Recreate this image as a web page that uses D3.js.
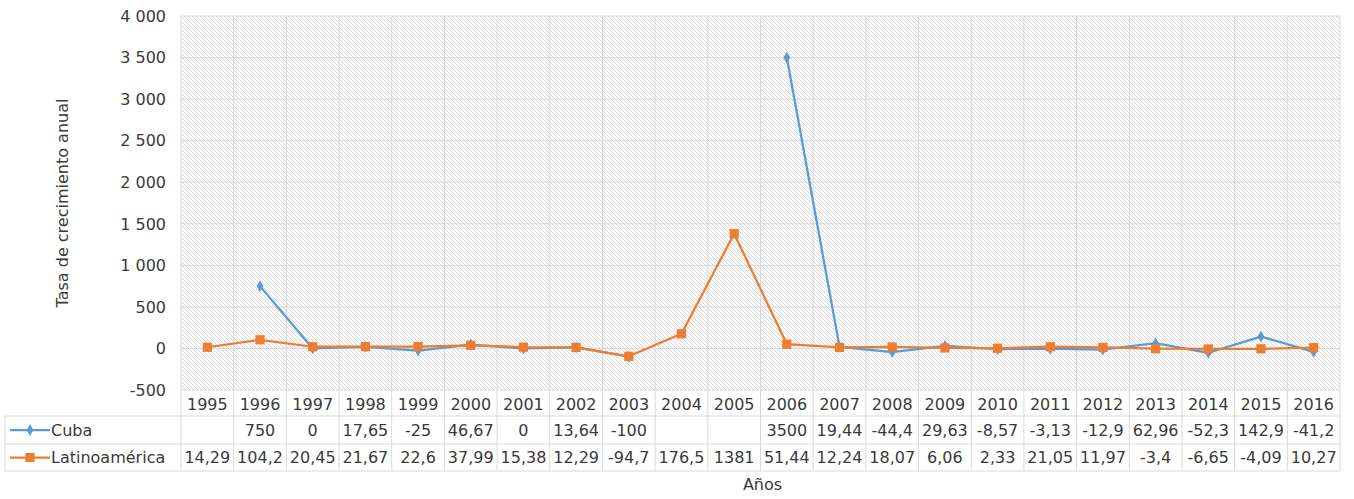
<!DOCTYPE html>
<html>
<head>
<meta charset="utf-8">
<script src="https://cdn.jsdelivr.net/npm/d3@7"></script>
<style>
  body { margin: 0; background: #fff; }
  text { font-family: "DejaVu Sans", Verdana, sans-serif; fill: #3a3a3a; }
</style>
</head>
<body>
<div id="main"></div>
<script>
const years = ["1995","1996","1997","1998","1999","2000","2001","2002","2003","2004","2005",
  "2006","2007","2008","2009","2010","2011","2012","2013","2014","2015","2016"];
const cuba = [null, 750, 0, 17.65, -25, 46.67, 0, 13.64, -100, null, null,
  3500, 19.44, -44.4, 29.63, -8.57, -3.13, -12.9, 62.96, -52.3, 142.9, -41.2];
const latino = [14.29, 104.2, 20.45, 21.67, 22.6, 37.99, 15.38, 12.29, -94.7, 176.5, 1381,
  51.44, 12.24, 18.07, 6.06, 2.33, 21.05, 11.97, -3.4, -6.65, -4.09, 10.27];
const yTicks = [-500, 0, 500, 1000, 1500, 2000, 2500, 3000, 3500, 4000];

const ctx = {
  width: 1354,
  height: 499,
  left: 181,
  right: 1340,
  top: 16,
  bottom: 390,
  gridColor: "#d9d9d9",
  blue: "#5b9bd5",
  orange: "#ed7d31",
  fontSize: 16
};

const series = [
  {name: "Cuba", values: cuba, color: ctx.blue, marker: "diamond"},
  {name: "Latinoamérica", values: latino, color: ctx.orange, marker: "square"}
];

function fmt(v){
  if (v === null) return "";
  return String(v).replace(".", ",");
}
function fmtTick(v){
  // plain hyphen for negatives, space as thousands separator
  return d3.format(",")(v).replace(/,/g, " ").replace("\u2212", "-");
}

function createViz(){
  let svg = d3.select("#main").append("svg")
    .attr("width", ctx.width)
    .attr("height", ctx.height);

  let defs = svg.append("defs");
  let pat = defs.append("pattern")
    .attr("id", "hatch")
    .attr("patternUnits", "userSpaceOnUse")
    .attr("width", 4).attr("height", 4);
  pat.append("rect").attr("width", 4).attr("height", 4).attr("fill", "#fbfbfb");
  pat.append("path")
    .attr("d", "M-1,-1 L5,5 M-1,3 L1,5 M3,-1 L5,1")
    .attr("stroke", "#dcdcdc")
    .attr("stroke-width", 1);

  let x = d3.scaleBand().domain(years).range([ctx.left, ctx.right]);
  let y = d3.scaleLinear().domain([-500, 4000]).range([ctx.bottom, ctx.top]);
  let cx = d => x(d) + x.bandwidth() / 2;

  // plot background
  svg.append("rect")
    .attr("x", ctx.left).attr("y", ctx.top)
    .attr("width", ctx.right - ctx.left).attr("height", ctx.bottom - ctx.top)
    .attr("fill", "url(#hatch)");

  // horizontal grid
  svg.append("g").selectAll("line")
    .data(yTicks)
    .enter().append("line")
    .attr("x1", ctx.left).attr("x2", ctx.right)
    .attr("y1", d => y(d)).attr("y2", d => y(d))
    .attr("stroke", ctx.gridColor);

  // row positions of the data table
  let rowHeader = ctx.bottom;
  let rowCuba = 416;
  let rowLatino = 444;
  let rowEnd = 471;

  // vertical grid continuing into table
  let bounds = years.map(d => x(d)).concat([ctx.right]);
  svg.append("g").selectAll("line")
    .data(bounds)
    .enter().append("line")
    .attr("x1", d => d).attr("x2", d => d)
    .attr("y1", ctx.top).attr("y2", rowEnd)
    .attr("stroke", ctx.gridColor);

  // table horizontal lines
  svg.append("g").selectAll("line")
    .data([rowCuba, rowLatino, rowEnd])
    .enter().append("line")
    .attr("x1", 5).attr("x2", ctx.right)
    .attr("y1", d => d).attr("y2", d => d)
    .attr("stroke", ctx.gridColor);
  svg.append("line")
    .attr("x1", 5).attr("x2", 5)
    .attr("y1", rowCuba).attr("y2", rowEnd)
    .attr("stroke", ctx.gridColor);

  // y tick labels
  svg.append("g").selectAll("text")
    .data(yTicks)
    .enter().append("text")
    .attr("x", 166)
    .attr("y", d => y(d))
    .attr("dy", "0.36em")
    .attr("text-anchor", "end")
    .attr("font-size", ctx.fontSize)
    .text(d => fmtTick(d));

  // axis title
  svg.append("text")
    .attr("transform", "translate(68," + ((ctx.top + ctx.bottom) / 2) + ") rotate(-90)")
    .attr("text-anchor", "middle")
    .attr("font-size", ctx.fontSize)
    .text("Tasa de crecimiento anual");

  svg.append("text")
    .attr("x", (ctx.left + ctx.right) / 2 + 2)
    .attr("y", 490)
    .attr("text-anchor", "middle")
    .attr("font-size", ctx.fontSize)
    .text("Años");

  // year header
  svg.append("g").selectAll("text")
    .data(years)
    .enter().append("text")
    .attr("x", d => cx(d))
    .attr("y", (rowHeader + rowCuba) / 2 + 1)
    .attr("dy", "0.36em")
    .attr("text-anchor", "middle")
    .attr("font-size", ctx.fontSize)
    .text(d => d);

  // lines
  let line = d3.line()
    .defined(d => d.v !== null)
    .x(d => cx(d.year))
    .y(d => y(d.v));

  let markerSize = {diamond: 40, square: 85};
  let symbolType = {diamond: d3.symbolDiamond, square: d3.symbolSquare};

  series.forEach((s, si) => {
    let pts = years.map((yr, i) => ({year: yr, v: s.values[i]}));
    let g = svg.append("g");
    g.append("path")
      .datum(pts)
      .attr("d", line)
      .attr("fill", "none")
      .attr("stroke", s.color)
      .attr("stroke-width", 2.25)
      .attr("stroke-linejoin", "round");
    g.selectAll("path.m")
      .data(pts.filter(d => d.v !== null))
      .enter().append("path")
      .attr("class", "m")
      .attr("transform", d => "translate(" + cx(d.year) + "," + y(d.v) + ")")
      .attr("d", d3.symbol().type(symbolType[s.marker]).size(markerSize[s.marker]))
      .attr("fill", s.color);

    // table rows
    let rowTop = si === 0 ? rowCuba : rowLatino;
    let rowBot = si === 0 ? rowLatino : rowEnd;
    let mid = (rowTop + rowBot) / 2;
    svg.append("line")
      .attr("x1", 10).attr("x2", 50)
      .attr("y1", mid).attr("y2", mid)
      .attr("stroke", s.color).attr("stroke-width", 2.25);
    svg.append("path")
      .attr("transform", "translate(30," + mid + ")")
      .attr("d", d3.symbol().type(symbolType[s.marker]).size(markerSize[s.marker]))
      .attr("fill", s.color);
    svg.append("text")
      .attr("x", 51).attr("y", mid)
      .attr("dy", "0.36em")
      .attr("font-size", ctx.fontSize)
      .text(s.name);
    svg.append("g").selectAll("text")
      .data(pts)
      .enter().append("text")
      .attr("x", d => cx(d.year))
      .attr("y", mid)
      .attr("dy", "0.36em")
      .attr("text-anchor", "middle")
      .attr("font-size", ctx.fontSize)
      .text(d => fmt(d.v));
  });
}

createViz();
</script>
</body>
</html>
